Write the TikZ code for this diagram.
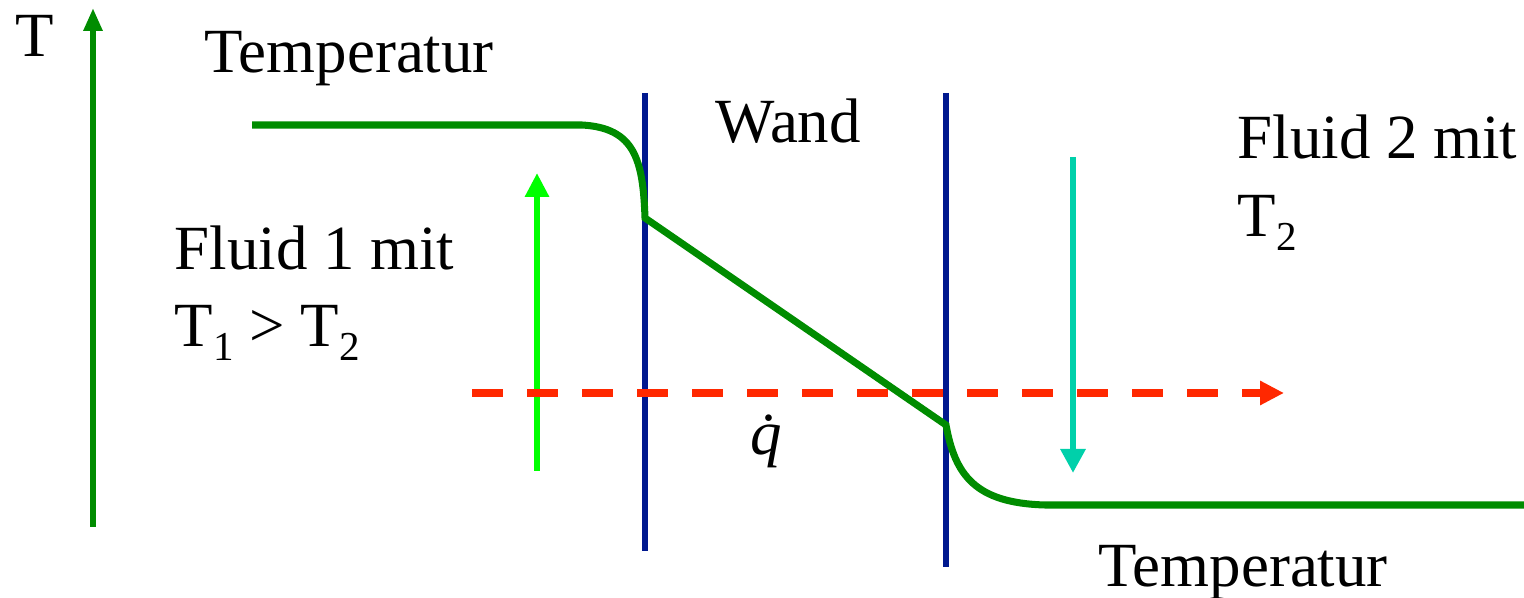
\documentclass[tikz,border=0pt]{standalone}
\usepackage{fontspec}
\setmainfont{Liberation Serif}
\usetikzlibrary{arrows.meta}
\definecolor{tempgreen}{RGB}{0,140,0}
\definecolor{wallblue}{RGB}{0,24,143}
\definecolor{hotgreen}{RGB}{0,255,0}
\definecolor{coldteal}{RGB}{0,208,170}
\definecolor{flowred}{RGB}{255,40,0}
\newcommand{\idx}[1]{\raisebox{-0.21em}{\fontsize{11.7}{11.7}\selectfont #1}}
\begin{document}
\begin{tikzpicture}[every node/.style={inner sep=0pt, anchor=base west, font=\fontsize{17.9}{21.9}\selectfont},
    templine/.style={tempgreen, line width=2pt},
    wall/.style={wallblue, line width=1.7pt},
    vec/.style={line width=1.8pt, -{Triangle[length=0.24cm, width=0.23cm]}}]
  \useasboundingbox (0,0) rectangle (15.24,5.98);
  % Temperature axis
  \coordinate (axbot) at (0.93,0.71);
  \coordinate (axtop) at (0.93,5.90);
  \draw[vec, tempgreen, -{Triangle[length=0.23cm, width=0.18cm]}] (axbot) -- (axtop);
  \node (tlab) at (0.15,5.41) {T};
  % Walls
  \foreach \x/\b [count=\i] in {6.45/0.47, 9.46/0.31} {
    \coordinate (w\i top) at (\x,5.05);
    \coordinate (w\i bot) at (\x,\b);
    \draw[wall] (w\i top) -- (w\i bot);
  }
  \node (wand) at (7.15,4.55) {Wand};
  % Temperature profile
  \draw[templine] (2.52,4.73) -- (5.82,4.73)
    .. controls (6.35,4.70) and (6.43,4.38) .. (6.45,3.80)
    -- (9.46,1.73)
    .. controls (9.55,1.23) and (9.75,0.95) .. (10.45,0.93)
    -- (15.24,0.93);
  \node (temp1) at (2.04,5.25) {Temperatur};
  \node (temp2) at (10.98,0.11) {Temperatur};
  % Fluid 1
  \coordinate (f1bot) at (5.37,1.27);
  \coordinate (f1top) at (5.37,4.25);
  \draw[vec, hotgreen] (f1bot) -- (f1top);
  \node (fluid1) at (1.74,3.28) {Fluid 1 mit};
  \node (fluid1b) at ([yshift=-0.77cm]fluid1.base west) {T\idx{1} > T\idx{2}};
  % Fluid 2
  \coordinate (f2top) at (10.73,4.41);
  \coordinate (f2bot) at (10.73,1.25);
  \draw[vec, coldteal, -{Triangle[length=0.24cm, width=0.24cm]}] (f2top) -- (f2bot);
  \node (fluid2) at (12.37,4.39) {Fluid 2 mit};
  \node (fluid2b) at ([yshift=-0.78cm]fluid2.base west) {T\idx{2}};
  % Heat flux
  \coordinate (qa) at (4.72,2.05);
  \coordinate (qb) at (12.84,2.05);
  \draw[vec, flowred, line width=2pt, dash pattern=on 0.31cm off 0.24cm] (qa) -- (qb);
  \node (qdot) at (7.50,1.43) {\itshape\.{q}};
\end{tikzpicture}
\end{document}
